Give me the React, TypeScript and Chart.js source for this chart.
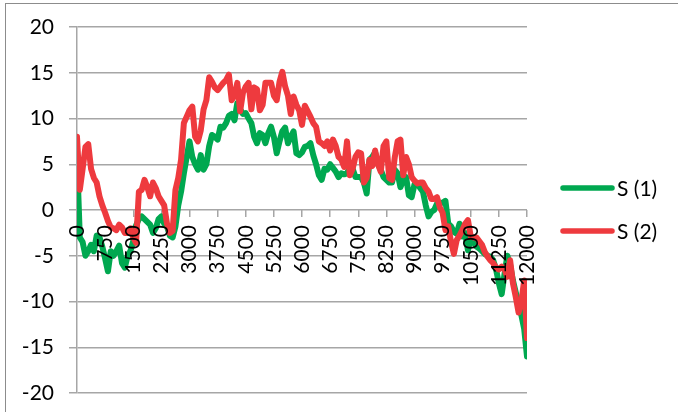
import React, { useEffect, useRef } from "react";
import { Chart, registerables } from "chart.js";

Chart.register(...registerables);

const seriesLabels = ["S (1)", "S (2)"];

const xValues = [
  0, 75, 150, 225, 300, 375, 450, 525, 600, 675, 750, 825, 900, 975, 1050, 1125, 1200, 1275,
  1350, 1425, 1500, 1575, 1650, 1725, 1800, 1875, 1950, 2025, 2100, 2175, 2250, 2325, 2400,
  2475, 2550, 2625, 2700, 2775, 2850, 2925, 3000, 3075, 3150, 3225, 3300, 3375, 3450, 3525,
  3600, 3675, 3750, 3825, 3900, 3975, 4050, 4125, 4200, 4275, 4350, 4425, 4500, 4575, 4650,
  4725, 4800, 4875, 4950, 5025, 5100, 5175, 5250, 5325, 5400, 5475, 5550, 5625, 5700, 5775,
  5850, 5925, 6000, 6075, 6150, 6225, 6300, 6375, 6450, 6525, 6600, 6675, 6750, 6825, 6900,
  6975, 7050, 7125, 7200, 7275, 7350, 7425, 7500, 7575, 7650, 7725, 7800, 7875, 7950, 8025,
  8100, 8175, 8250, 8325, 8400, 8475, 8550, 8625, 8700, 8775, 8850, 8925, 9000, 9075, 9150,
  9225, 9300, 9375, 9450, 9525, 9600, 9675, 9750, 9825, 9900, 9975, 10050, 10125, 10200,
  10275, 10350, 10425, 10500, 10575, 10650, 10725, 10800, 10875, 10950, 11025, 11100, 11175,
  11250, 11325, 11400, 11475, 11550, 11625, 11700, 11775, 11850, 11925, 12000,
];

const s1Values = [
  5.8, -3.0, -3.5, -5.0, -4.5, -3.8, -4.5, -2.8, -3.0, -4.0, -5.3, -6.7, -4.5, -5.0, -4.5, -3.9,
  -5.8, -6.3, -5.0, -4.5, -3.4, -1.7, -1.0, -0.7, -1.0, -1.3, -1.6, -2.5, -2.0, -1.0, -0.7, -1.5,
  -1.8, -2.8, -3.0, -1.8, 0.5, 2.0, 4.0, 5.8, 7.5, 5.8, 5.0, 4.4, 6.0, 4.4, 5.0, 7.0,
  8.2, 8.0, 7.7, 9.1, 9.0, 9.5, 10.3, 10.5, 9.8, 11.7, 11.0, 10.5, 10.6, 10.0, 9.5, 8.0,
  7.3, 8.4, 8.2, 7.3, 8.4, 9.1, 8.0, 6.2, 7.5, 8.6, 9.0, 7.3, 8.0, 8.6, 6.2, 6.0,
  6.3, 6.9, 7.0, 7.3, 6.0, 5.0, 3.8, 3.3, 4.5, 4.4, 5.0, 4.6, 4.2, 3.6, 4.0, 3.9,
  4.0, 4.7, 4.5, 3.6, 3.6, 3.6, 3.0, 1.8, 5.5, 5.8, 6.3, 5.0, 4.4, 3.6, 3.3, 3.0,
  3.0, 4.4, 4.0, 2.5, 3.3, 3.6, 1.6, 1.4, 2.8, 2.9, 2.4, 2.0, 0.5, -0.7, -0.2, 0.0,
  0.7, 0.8, 0.8, 1.0, -1.5, -1.8, -2.4, -2.6, -1.5, -2.9, -2.5, -4.4, -3.0, -3.5, -4.0, -4.2,
  -4.5, -4.8, -5.0, -5.1, -5.5, -6.5, -8.0, -9.2, -7.0, -5.0, -6.0, -7.7, -9.0, -10.2, -11.5, -13.0,
  -16.0,
];

const s2Values = [
  8.0, 2.2, 4.5, 6.9, 7.2, 4.5, 3.5, 3.0, 1.5, 0.5, -0.3, -1.2, -1.9, -2.0, -2.2, -1.6,
  -1.9, -2.5, -2.5, -2.0, -3.0, -3.6, 2.0, 2.2, 3.3, 2.5, 1.5, 3.0, 2.4, 1.5, 1.0, 0.5,
  -1.5, -2.5, -2.3, 2.2, 3.5, 5.5, 9.5, 10.2, 10.9, 11.3, 8.0, 7.5, 8.7, 11.0, 12.0, 14.5,
  14.0, 13.4, 13.1, 13.5, 13.9, 14.2, 14.8, 12.0, 12.5, 13.9, 10.8, 12.8, 13.5, 13.9, 11.0, 13.4,
  13.2, 10.9, 11.5, 13.9, 13.9, 13.9, 12.5, 12.0, 14.0, 15.1, 13.5, 12.5, 10.5, 12.4, 11.5, 10.9,
  9.3, 11.4, 10.8, 10.2, 9.5, 9.1, 7.5, 7.3, 7.0, 7.5, 6.5, 7.7, 7.0, 5.8, 5.5, 4.7,
  7.5, 3.8, 4.5, 5.8, 6.3, 6.2, 3.0, 3.5, 5.5, 4.8, 6.5, 5.0, 4.2, 7.0, 7.5, 3.5,
  3.3, 5.8, 7.5, 7.7, 3.8, 5.8, 5.0, 3.6, 3.2, 2.9, 3.0, 3.0, 2.4, 2.0, 1.2, 1.2,
  1.4, 0.3, -0.3, -2.2, -1.8, -3.5, -4.8, -3.3, -2.8, -2.2, -1.5, -1.1, -2.9, -3.0, -3.0, -3.4,
  -3.8, -4.6, -5.1, -5.5, -5.8, -6.3, -6.5, -6.2, -6.5, -7.3, -5.5, -8.0, -9.5, -11.2, -10.0, -7.7,
  -14.0,
];

const xTickValues = [
  0, 750, 1500, 2250, 3000, 3750, 4500, 5250, 6000, 6750, 7500, 8250, 9000, 9750, 10500,
  11250, 12000,
];
const yTickValues = [-20, -15, -10, -5, 0, 5, 10, 15, 20];

const GREEN = "rgb(0,168,80)";
const RED = "rgb(238,58,62)";
const GRID = "#a6a6a6";
const FONT = "Lato, 'Open Sans', sans-serif";

export default function App() {
  const canvasRef = useRef<HTMLCanvasElement | null>(null);

  useEffect(() => {
    const canvas = canvasRef.current;
    if (!canvas) return;
    const colors = [GREEN, RED];

    const legendPlugin = {
      id: "customLegend",
      afterDraw(chart: any) {
        const ctx = chart.ctx;
        const area = chart.chartArea;
        ctx.save();
        seriesLabels.forEach((label, i) => {
          const y = 188 + i * 43;
          const x0 = area.right + 36;
          ctx.strokeStyle = colors[i];
          ctx.lineWidth = 5.5;
          ctx.lineCap = "round";
          ctx.beginPath();
          ctx.moveTo(x0, y);
          ctx.lineTo(x0 + 49, y);
          ctx.stroke();
          ctx.fillStyle = "#000";
          ctx.font = `21px ${FONT}`;
          ctx.textBaseline = "middle";
          ctx.textAlign = "left";
          ctx.fillText(label, x0 + 54, y + 1);
        });
        ctx.restore();
      },
    };

    const lineStyle = {
      borderWidth: 6,
      pointRadius: 0,
      tension: 0,
      borderJoinStyle: "round" as const,
      borderCapStyle: "round" as const,
    };

    const chart = new Chart(canvas, {
      type: "line",
      data: {
        datasets: [
          {
            label: seriesLabels[0],
            data: xValues.map((x, i) => ({ x, y: s1Values[i] })),
            borderColor: GREEN,
            backgroundColor: GREEN,
            order: 2,
            ...lineStyle,
          },
          {
            label: seriesLabels[1],
            data: xValues.map((x, i) => ({ x, y: s2Values[i] })),
            borderColor: RED,
            backgroundColor: RED,
            order: 1,
            ...lineStyle,
          },
        ],
      },
      options: {
        animation: false,
        responsive: false,
        maintainAspectRatio: false,
        layout: { padding: { left: 0, top: 27, right: 151, bottom: 19 } },
        plugins: {
          legend: { display: false },
          tooltip: { enabled: false },
        },
        scales: {
          x: {
            type: "linear",
            min: 0,
            max: 12000,
            position: { y: 0 } as any,
            afterBuildTicks: (scale: any) => {
              scale.ticks = xTickValues.map((v) => ({ value: v }));
            },
            afterFit: (scale: any) => {
              scale.paddingLeft = 0;
              scale.paddingRight = 0;
              scale.paddingTop = 0;
              scale.paddingBottom = 0;
            },
            ticks: {
              autoSkip: false,
              minRotation: 90,
              maxRotation: 90,
              padding: 8,
              color: "#000",
              font: { family: FONT, size: 21 },
              z: 1,
              callback: (v: any) => String(v),
            },
            grid: {
              drawOnChartArea: false,
              drawTicks: true,
              tickLength: 7,
              color: GRID,
              lineWidth: 1.5,
            },
            border: { display: false },
          },
          y: {
            type: "linear",
            min: -20,
            max: 20,
            afterBuildTicks: (scale: any) => {
              scale.ticks = yTickValues.map((v) => ({ value: v }));
            },
            afterFit: (scale: any) => {
              scale.width = 77;
              scale.paddingTop = 0;
              scale.paddingBottom = 0;
            },
            ticks: {
              padding: 15,
              color: "#000",
              font: { family: FONT, size: 21 },
              callback: (v: any) => String(v),
            },
            grid: {
              color: GRID,
              lineWidth: 1.5,
              tickLength: 8,
              drawTicks: true,
            },
            border: { display: true, color: GRID, width: 1.5 },
          },
        },
      },
      plugins: [legendPlugin],
    });

    return () => {
      chart.destroy();
    };
  }, []);

  return (
    <div
      style={{
        position: "fixed",
        left: 0,
        top: 0,
        width: 678,
        height: 412,
        background: "#fff",
        overflow: "hidden",
      }}
    >
      <canvas
        ref={canvasRef}
        width={678}
        height={412}
        style={{ position: "absolute", left: 0, top: 0, width: 678, height: 412 }}
      />
      <div
        style={{
          position: "absolute",
          left: 5,
          top: 3,
          width: 720,
          height: 460,
          borderLeft: "1.5px solid #8c8c8c",
          borderTop: "1.5px solid #8c8c8c",
          pointerEvents: "none",
        }}
      />
    </div>
  );
}
